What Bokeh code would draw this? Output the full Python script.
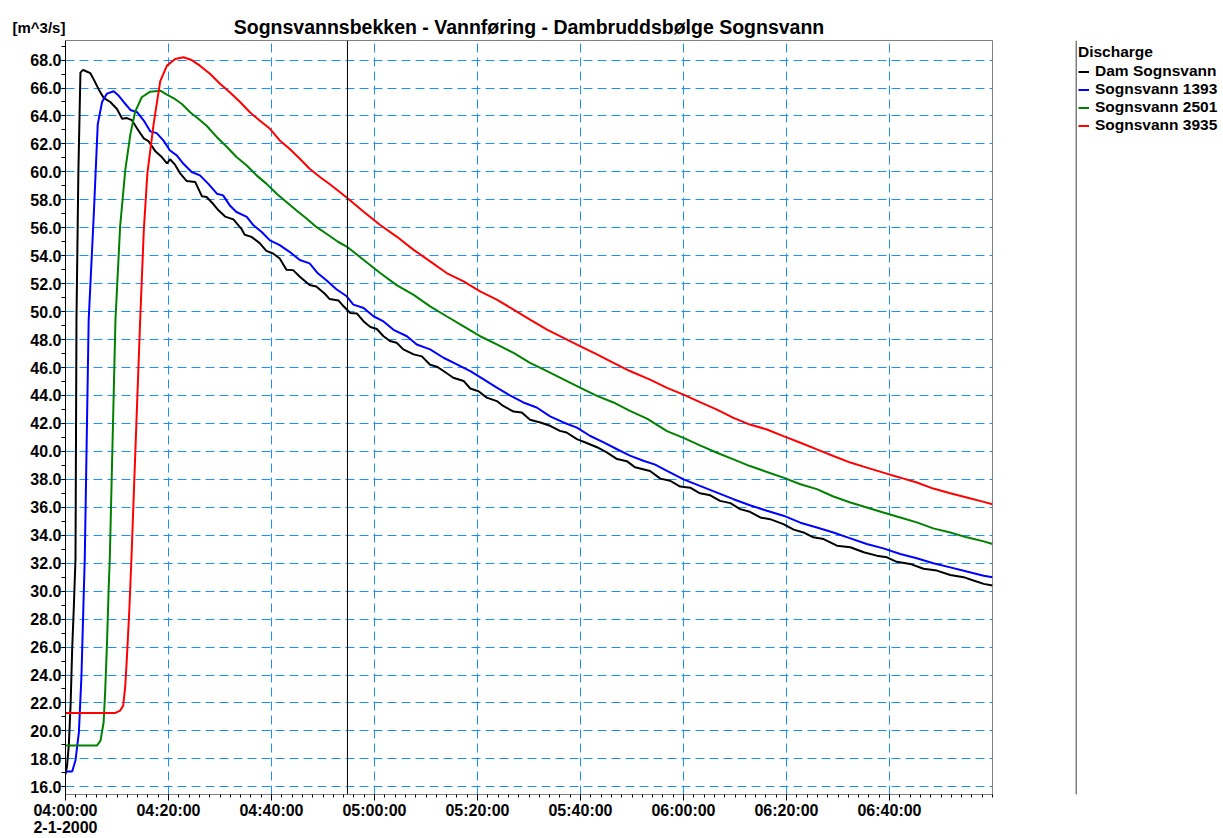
import pandas as pd
from bokeh.plotting import figure
from bokeh.layouts import row
from bokeh.models import (ColumnDataSource, FixedTicker, PrintfTickFormatter, DatetimeTickFormatter,
                          Range1d, Span, Label, Legend, LegendItem)
from bokeh.embed import file_html
from bokeh.resources import INLINE

# ---------------- data ----------------
title_text = "Sognsvannsbekken - Vannføring - Dambruddsbølge Sognsvann"
unit_text = "[m^3/s]"
date_text = "2-1-2000"
legend_title = "Discharge"

start_time = "2000-01-02 04:00:00"
end_time = "2000-01-02 07:00:00"
marker_time = "2000-01-02 04:54:45"

y_min, y_max = 15.45, 69.4
y_tick_values = [16, 18, 20, 22, 24, 26, 28, 30, 32, 34, 36, 38, 40, 42, 44, 46, 48, 50,
                 52, 54, 56, 58, 60, 62, 64, 66, 68]
x_tick_labels = ["04:00:00", "04:20:00", "04:40:00", "05:00:00", "05:20:00",
                 "05:40:00", "06:00:00", "06:20:00", "06:40:00"]

series_names = ["Dam Sognsvann", "Sognsvann 1393", "Sognsvann 2501", "Sognsvann 3935"]
series_colors = ["#000000", "#0000FF", "#008000", "#FF0000"]

# minutes after 04:00
dam_minutes = [0, 0.3, 0.65, 1.0, 1.3, 1.6, 1.94, 2.13, 2.5, 2.9, 3.4, 4.0, 4.8, 5.5, 6.45, 7.4, 8.7,
               10.0, 11.0, 11.9, 12.9, 13.9, 15.2, 16.1, 17.4, 18.7, 19.7, 20.3, 21.3, 22.3, 23.5,
               25.2, 26.5, 27.4, 28.7, 29.7, 31.0, 32.6, 34.2, 34.8, 36.1, 37.7, 39.0, 40.3, 41.6,
               42.9, 44.2, 45.5, 47.4, 48.7, 50.3, 51.3, 53.0, 54.0, 55.3, 56.6, 57.9, 59.2, 60.45,
               61.75, 63.0, 64.3, 65.6, 67.6, 69.2, 70.8, 72.1, 73.4, 75.3, 77.3, 78.6, 80.2, 81.8,
               83.75, 85.0, 87.0, 88.6, 90.2, 92.2, 94.1, 96.0, 97.3, 99.3, 101.2, 103.2, 105.1,
               107.1, 109.0, 110.6, 113.5, 115.5, 117.4, 119.35, 121.3, 123.2, 125.2, 127.1, 129.1,
               131.0, 132.9, 134.9, 136.8, 139.4, 141.4, 143.3, 145.2, 147.2, 149.8, 152.4, 155.0,
               157.5, 159.5, 161.4, 164.0, 166.6, 169.2, 171.8, 174.4, 176.3, 178.3, 180.0]
dam_values = [16.9, 17.5, 19.0, 22.0, 25.9, 28.7, 32.3, 49.4, 60.0, 67.1, 67.3, 67.2, 67.07, 66.6,
              65.9, 65.3, 65.0, 64.5, 63.8, 63.85, 63.7, 63.1, 62.4, 62.2, 61.5, 61.06, 60.6, 60.9,
              60.5, 59.87, 59.35, 59.27, 58.25, 58.2, 57.7, 57.25, 56.8, 56.6, 55.9, 55.5, 55.35,
              54.9, 54.35, 54.16, 53.8, 53.0, 52.97, 52.5, 51.9, 51.8, 51.3, 50.9, 50.8, 50.38,
              49.9, 49.86, 49.3, 48.9, 48.76, 48.24, 47.9, 47.77, 47.3, 46.94, 46.8, 46.2, 46.06,
              45.75, 45.27, 45.04, 44.5, 44.3, 43.85, 43.6, 43.25, 42.85, 42.78, 42.26, 42.07,
              41.83, 41.47, 41.35, 40.88, 40.6, 40.3, 39.93, 39.45, 39.3, 38.86, 38.6, 38.05, 37.9,
              37.48, 37.4, 37.0, 36.86, 36.46, 36.3, 35.87, 35.68, 35.27, 35.15, 34.8, 34.4, 34.2,
              33.85, 33.73, 33.25, 33.14, 32.78, 32.54, 32.42, 32.1, 31.95, 31.6, 31.47, 31.16,
              31.0, 30.76, 30.52, 30.4]

s1393_minutes = [0, 1.3, 1.94, 2.6, 3.1, 3.55, 3.74, 4.5, 5.5, 6.26, 7.1, 8.06, 9.35, 10.3, 11.3,
                 12.6, 13.9, 15.2, 16.45, 17.7, 19.0, 20.3, 21.6, 22.9, 24.5, 26.1, 27.7, 29.4,
                 30.6, 31.9, 33.2, 35.2, 36.5, 38.1, 39.7, 41.6, 43.5, 45.5, 47.4, 49.0, 50.6,
                 52.6, 54.6, 55.9, 57.9, 59.8, 61.75, 63.7, 66.3, 68.2, 70.8, 73.4, 76.0, 78.6,
                 81.2, 83.75, 86.3, 88.9, 91.5, 94.1, 96.7, 99.3, 101.9, 104.5, 107.0, 109.6,
                 112.2, 114.5, 116.8, 120.0, 123.2, 126.5, 129.7, 132.9, 136.2, 139.4, 142.7,
                 145.9, 149.1, 152.4, 155.6, 158.8, 162.1, 165.3, 168.5, 171.8, 175.0, 178.3, 180.0]
s1393_values = [17.1, 17.1, 17.9, 19.9, 23.95, 29.9, 32.3, 49.4, 57.0, 63.4, 65.0, 65.6, 65.77,
                65.46, 65.0, 64.43, 64.27, 63.67, 62.9, 62.77, 62.25, 61.53, 61.18, 60.58, 59.99,
                59.75, 59.16, 58.44, 58.32, 57.6, 57.13, 56.78, 56.18, 55.7, 55.1, 54.76, 54.28,
                53.69, 53.45, 52.74, 52.26, 51.6, 51.1, 50.5, 50.26, 49.67, 49.3, 48.7, 48.24,
                47.65, 47.3, 46.7, 46.22, 45.75, 45.15, 44.56, 44.0, 43.5, 43.14, 42.5, 42.07,
                41.7, 41.1, 40.64, 40.17, 39.7, 39.33, 39.05, 38.6, 38.0, 37.53, 37.05, 36.58,
                36.15, 35.75, 35.4, 34.9, 34.56, 34.2, 33.78, 33.37, 33.06, 32.66, 32.35, 32.0,
                31.7, 31.4, 31.1, 31.0]

s2501_minutes = [0, 6.1, 6.8, 7.4, 7.7, 8.06, 8.4, 8.6, 9.7, 10.6, 11.6, 12.6, 13.5, 14.8, 16.45,
                 18.4, 19.7, 21.3, 22.6, 24.2, 25.8, 27.4, 29.35, 31.3, 33.2, 35.2, 37.1, 39.0,
                 41.0, 42.9, 44.8, 46.8, 48.7, 50.6, 52.9, 54.6, 57.9, 61.1, 64.3, 67.6, 70.8,
                 74.0, 77.3, 80.5, 83.75, 87.0, 90.2, 93.5, 96.7, 99.9, 103.2, 106.4, 109.6,
                 112.9, 116.8, 120.0, 123.2, 126.5, 129.7, 132.9, 136.2, 139.4, 142.7, 145.9,
                 149.1, 152.4, 155.6, 158.8, 162.1, 165.3, 168.5, 171.8, 175.0, 178.3, 180.0]
s2501_values = [18.95, 18.95, 19.3, 20.6, 22.8, 26.3, 30.4, 32.3, 49.4, 56.06, 60.1, 62.7, 64.27,
                65.34, 65.74, 65.81, 65.53, 65.2, 64.86, 64.27, 63.8, 63.3, 62.5, 61.8, 61.06,
                60.46, 59.75, 59.16, 58.44, 57.85, 57.25, 56.66, 56.06, 55.59, 55.0, 54.66, 53.7,
                52.76, 51.9, 51.2, 50.38, 49.67, 48.95, 48.24, 47.65, 47.05, 46.34, 45.75, 45.15,
                44.56, 43.97, 43.5, 42.9, 42.35, 41.45, 40.97, 40.43, 39.9, 39.43, 38.95, 38.53,
                38.12, 37.65, 37.3, 36.77, 36.34, 35.99, 35.63, 35.27, 34.92, 34.49, 34.2, 33.85,
                33.56, 33.37]

s3935_minutes = [0, 9.7, 10.6, 11.2, 11.6, 11.9, 12.4, 12.8, 14.5, 15.2, 15.9, 17.1, 18.4, 19.7,
                 21.3, 22.9, 24.5, 26.1, 28.1, 30.0, 31.9, 33.9, 35.8, 37.7, 39.7, 41.6, 43.5,
                 45.5, 47.4, 49.4, 51.4, 54.6, 57.9, 61.1, 64.3, 67.6, 70.8, 74.0, 77.3, 80.5,
                 83.75, 87.0, 90.2, 93.5, 96.7, 99.9, 103.2, 106.4, 109.6, 113.5, 116.8, 120.0,
                 123.2, 126.5, 129.7, 132.9, 136.2, 139.4, 142.7, 145.9, 149.1, 152.4, 155.6,
                 158.8, 162.1, 165.3, 168.5, 171.8, 175.0, 178.3, 180.0]
s3935_values = [21.29, 21.29, 21.45, 21.8, 23.2, 25.1, 28.7, 32.3, 49.4, 55.8, 59.9, 63.4, 66.5,
                67.6, 68.07, 68.2, 68.0, 67.6, 67.0, 66.3, 65.7, 65.0, 64.27, 63.67, 63.08, 62.25,
                61.65, 60.94, 60.22, 59.63, 59.1, 58.17, 57.15, 56.2, 55.37, 54.42, 53.6, 52.76,
                52.16, 51.45, 50.86, 50.14, 49.43, 48.72, 48.12, 47.53, 46.94, 46.34, 45.75,
                45.13, 44.54, 44.06, 43.52, 42.99, 42.4, 41.92, 41.57, 41.09, 40.62, 40.14,
                39.67, 39.2, 38.84, 38.48, 38.12, 37.77, 37.34, 37.0, 36.7, 36.39, 36.22]

series_minutes = [dam_minutes, s1393_minutes, s2501_minutes, s3935_minutes]
series_values = [dam_values, s1393_values, s2501_values, s3935_values]

# ---------------- helpers ----------------
FONT = "Liberation Sans"
t0 = pd.Timestamp(start_time)
t_end = pd.Timestamp(end_time)


def to_ms(ts):
    return int(pd.Timestamp(ts).value // 10**6)


x_major = [to_ms(t0 + pd.Timedelta(minutes=20 * k)) for k in range(len(x_tick_labels))]
x_minor = [to_ms(t0 + pd.Timedelta(minutes=2 * k)) for k in range(91)]
y_minor = list(range(15, 70))
x_label_text = list(x_tick_labels)
x_label_text[0] = x_tick_labels[0] + "\n" + date_text

# ---------------- main figure ----------------
p = figure(width=1075, height=838, x_axis_type="datetime",
           x_range=Range1d(to_ms(t0), to_ms(t_end)), y_range=Range1d(y_min, y_max),
           output_backend="svg", toolbar_location=None,
           min_border_left=65, min_border_right=83, min_border_top=40, min_border_bottom=42,
           title=title_text)
p.background_fill_color = "white"
p.border_fill_color = "white"
p.outline_line_color = "#808080"
p.outline_line_width = 1

p.title.align = "center"
p.title.text_font = FONT
p.title.text_font_size = "19.5px"
p.title.text_font_style = "bold"
p.title.text_color = "black"
p.title.standoff = 6

for r_min, r_val, c in zip(series_minutes, series_values, series_colors):
    src = ColumnDataSource(dict(x=[t0 + pd.Timedelta(minutes=m) for m in r_min], y=r_val))
    p.line("x", "y", source=src, line_color=c, line_width=2)

p.add_layout(Span(location=to_ms(marker_time), dimension="height",
                  line_color="black", line_width=1))

# x axis
p.xaxis.ticker = FixedTicker(ticks=x_major, minor_ticks=x_minor)
p.xaxis.formatter = DatetimeTickFormatter(hours="%H:%M:%S", hourmin="%H:%M:%S",
                                          minutes="%H:%M:%S", minsec="%H:%M:%S",
                                          seconds="%H:%M:%S")
p.xaxis.major_label_overrides = dict(zip(x_major, x_label_text))
p.xaxis.major_label_text_font = FONT
p.xaxis.major_label_text_font_size = "16px"
p.xaxis.major_label_text_font_style = "bold"
p.xaxis.major_label_text_color = "black"
p.xaxis.major_label_text_line_height = 1.0
p.xaxis.major_label_standoff = 1
p.xaxis.axis_line_color = "#808080"
p.xaxis.major_tick_line_color = "black"
p.xaxis.minor_tick_line_color = "black"
p.xaxis.major_tick_out = 6
p.xaxis.major_tick_in = 0
p.xaxis.minor_tick_out = 3
p.xaxis.minor_tick_in = 0

# y axis
p.yaxis.ticker = FixedTicker(ticks=y_tick_values, minor_ticks=y_minor)
p.yaxis.formatter = PrintfTickFormatter(format="%.1f")
p.yaxis.major_label_text_font = FONT
p.yaxis.major_label_text_font_size = "16px"
p.yaxis.major_label_text_font_style = "bold"
p.yaxis.major_label_text_color = "black"
p.yaxis.major_label_standoff = 0
p.yaxis.axis_line_color = "black"
p.yaxis.major_tick_out = 4
p.yaxis.major_tick_in = 0
p.yaxis.minor_tick_out = 4
p.yaxis.minor_tick_in = 0

# grid
for g in (p.xgrid, p.ygrid):
    g.grid_line_color = "#1E90FF"
    g.grid_line_dash = "9 5"
    g.grid_line_width = 1

# unit label, placed in a side panel so it is not clipped to the plot frame
p.add_layout(Label(x=to_ms(t0), y=y_max, x_offset=-53, y_offset=13, text=unit_text,
                   text_font=FONT, text_font_size="15px", text_font_style="bold",
                   text_color="black", text_align="left", text_baseline="alphabetic"),
             "right")

# ---------------- legend panel ----------------
lg = figure(width=148, height=838, x_range=Range1d(0, 1), y_range=Range1d(0, 1),
            output_backend="svg", toolbar_location=None, title_location=None,
            x_axis_location=None, y_axis_location=None,
            min_border_left=0, min_border_right=0, min_border_top=0, min_border_bottom=0)
lg.outline_line_color = None
lg.background_fill_color = "white"
lg.border_fill_color = "white"
lg.xgrid.visible = False
lg.ygrid.visible = False
lg.add_layout(Span(location=0.5, location_units="screen", dimension="height",
                   line_color="black", line_width=1))

nan = float("nan")
items = []
for n, c in zip(series_names, series_colors):
    r = lg.line(x=[nan], y=[nan], line_color=c, line_width=2)
    items.append(LegendItem(label=n, renderers=[r]))

legend = Legend(items=items, title=legend_title, location="top_left",
                title_text_font=FONT, title_text_font_size="15.5px", title_text_font_style="bold",
                title_text_color="black",
                label_text_font=FONT, label_text_font_size="15.5px", label_text_font_style="bold",
                label_text_color="black",
                glyph_width=11, glyph_height=17, label_height=17, label_standoff=6,
                spacing=0, padding=0, margin=3, title_standoff=1,
                border_line_color=None, background_fill_alpha=0)
lg.add_layout(legend)

layout = row(p, lg)
open("out.html", "w").write(file_html(layout, INLINE))
